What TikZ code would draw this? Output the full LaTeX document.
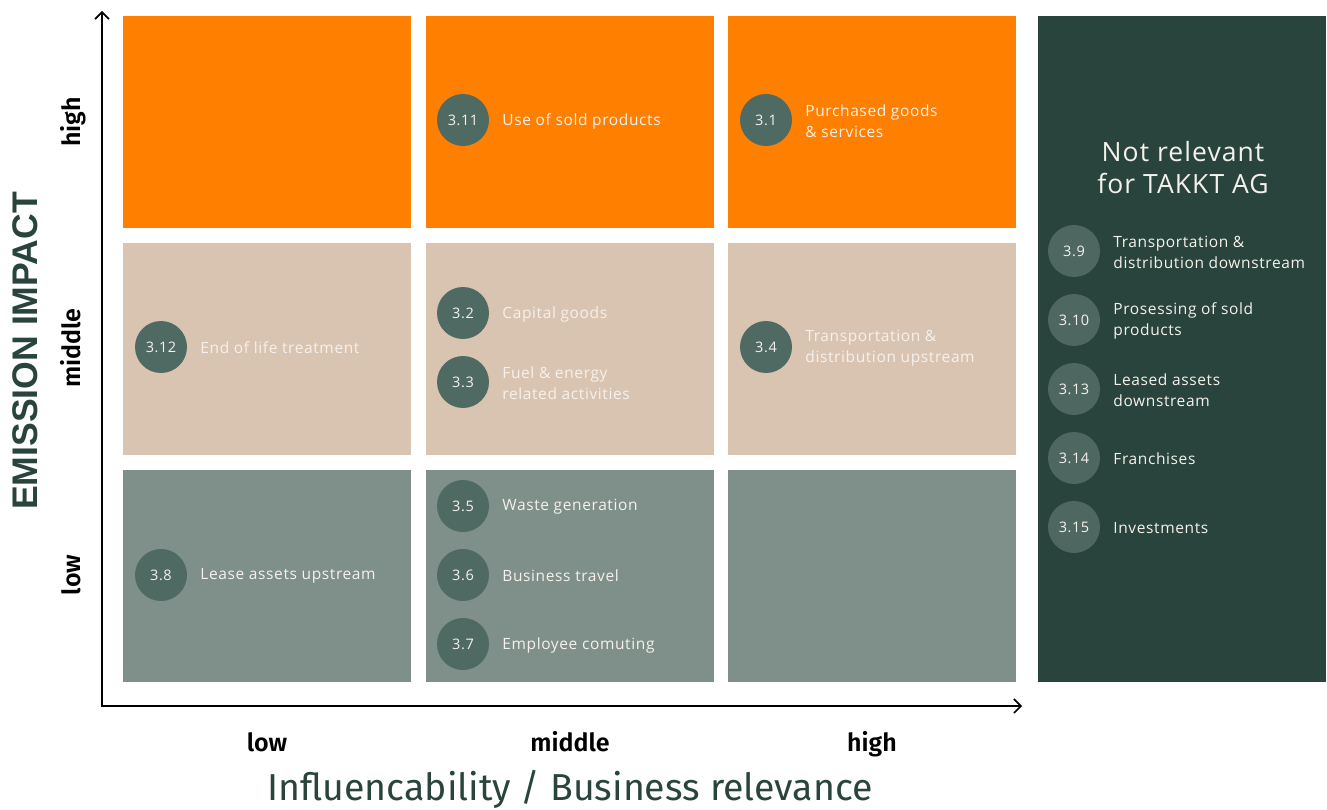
\documentclass[tikz,border=0pt]{standalone}
\usepackage{fontspec}
\setmainfont{Open Sans}[LetterSpace=4]
\newfontfamily\axisfont{Fira Sans}[UprightFont=* SemiBold]
\newfontfamily\titlefont{Fira Sans}
\newfontfamily\boldsans{Liberation Sans}[UprightFont=* Bold]
\usetikzlibrary{arrows.meta}
\definecolor{hiOrange}{HTML}{FF7F00}
\definecolor{midBeige}{HTML}{D9C4B1}
\definecolor{lowGray}{HTML}{7F8F89}
\definecolor{darkGreen}{HTML}{28443C}
\definecolor{chipGreen}{HTML}{4F6A62}
\definecolor{chipLight}{HTML}{4E6861}
\definecolor{paleText}{HTML}{F6F1EC}
\tikzset{
  cell/.style={draw=none, minimum width=288pt, minimum height=212pt, inner sep=0pt},
  chip/.style={circle, fill=chipGreen, minimum size=52pt, inner sep=0pt,
    text=paleText, font=\fontsize{14.5}{16}\selectfont},
  chiplight/.style={chip, fill=chipLight},
  label/.style={anchor=west, align=left, inner sep=0pt, text=paleText,
    font=\fontsize{15.5}{21}\selectfont},
  axislabel/.style={font=\axisfont\fontsize{25}{27}\selectfont, text=black,
    anchor=base, inner sep=0pt},
  axisline/.style={line width=1.6pt, -{Straight Barb[length=7pt,width=14pt,line width=1.6pt]}}
}
% one numbered category: circle at the given point, description to its right
\newcommand\catitem[4]{%
  \node[chip] (c#1) at (#2) {#3};
  \node[label] (t#1) at ([xshift=13pt,yshift=-1pt]c#1.east) {#4};
}
\newcommand\catitemlight[4]{%
  \node[chiplight] (c#1) at (#2) {#3};
  \node[label] (t#1) at ([xshift=13pt,yshift=-1pt]c#1.east) {#4};
}
\begin{document}
\begin{tikzpicture}[x=1pt,y=-1pt]
\useasboundingbox (0,0) rectangle (1327,810);
\fill[white] (0,0) rectangle (1327,810);

% matrix cells
\node[cell, fill=hiOrange] (hl) at (267,122) {};
\node[cell, fill=hiOrange] (hm) at (570,122) {};
\node[cell, fill=hiOrange] (hh) at (872,122) {};
\node[cell, fill=midBeige] (ml) at (267,349) {};
\node[cell, fill=midBeige] (mm) at (570,349) {};
\node[cell, fill=midBeige] (mh) at (872,349) {};
\node[cell, fill=lowGray] (ll) at (267,576) {};
\node[cell, fill=lowGray] (lm) at (570,576) {};
\node[cell, fill=lowGray] (lh) at (872,576) {};

% side panel
\node[draw=none, fill=darkGreen, minimum width=288pt, minimum height=666pt, inner sep=0pt] (panel) at (1182,349) {};
\node[align=center, text=paleText, font=\fontsize{26.5}{32}\selectfont] (paneltitle) at (1183,168) {Not relevant\\for TAKKT AG};

% categories
\catitem{311}{463,120}{3.11}{Use of sold products}
\catitem{31}{766,120}{3.1}{Purchased goods\\\& services}
\catitem{312}{161,347}{3.12}{End of life treatment}
\catitem{32}{463,313}{3.2}{Capital goods}
\catitem{33}{463,382}{3.3}{Fuel \& energy\\related activities}
\catitem{34}{766,347}{3.4}{Transportation \&\\distribution upstream}
\catitem{38}{161,575}{3.8}{Lease assets upstream}
\catitem{35}{463,506}{3.5}{Waste generation}
\catitem{36}{463,575}{3.6}{Business travel}
\catitem{37}{463,644}{3.7}{Employee comuting}

\catitemlight{39}{1074,251}{3.9}{Transportation \&\\distribution downstream}
\catitemlight{310}{1074,320}{3.10}{Prosessing of sold\\products}
\catitemlight{313}{1074,389}{3.13}{Leased assets\\downstream}
\catitemlight{314}{1074,458}{3.14}{Franchises}
\catitemlight{315}{1074,527}{3.15}{Investments}

% axes
\coordinate (origin) at (102,706);
\coordinate (ytip) at (102,11);
\coordinate (xtip) at (1022,706);
\draw[axisline] (origin) -- (ytip);
\draw[axisline] ([xshift=-0.8pt]origin) -- (xtip);

% axis labels (shared baseline per axis)
\node[axislabel, rotate=90] (yhigh) at (80,122) {high};
\node[axislabel, rotate=90] (ymid) at (80,348) {middle};
\node[axislabel, rotate=90] (ylow) at (80,575) {low};
\node[axislabel] (xlow) at (267,751) {low};
\node[axislabel] (xmid) at (570,751) {middle};
\node[axislabel] (xhigh) at (872,751) {high};

\node[rotate=90, text=darkGreen, font=\boldsans\fontsize{35.6}{37}\selectfont] (ytitle) at (25,351) {EMISSION IMPACT};
\node[anchor=base, inner sep=0pt, text=darkGreen, font=\titlefont\fontsize{37.5}{40}\selectfont] (xtitle) at (570,800.5) {Influencability / Business relevance};
\end{tikzpicture}
\end{document}
